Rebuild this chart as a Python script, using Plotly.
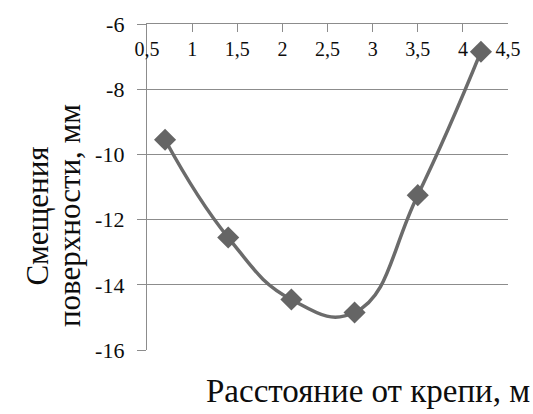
import plotly.graph_objects as go

x_vals = [0.7, 1.4, 2.1, 2.8, 3.5, 4.2]
y_vals = [-9.55, -12.55, -14.45, -14.85, -11.25, -6.85]
x_ticks = [0.5, 1, 1.5, 2, 2.5, 3, 3.5, 4, 4.5]
x_tick_labels = ["0,5", "1", "1,5", "2", "2,5", "3", "3,5", "4", "4,5"]
y_ticks = [-16, -14, -12, -10, -8, -6]
y_tick_labels = ["-16", "-14", "-12", "-10", "-8", "-6"]
y_title_lines = ["Смещения", "поверхности, мм"]
x_title = "Расстояние от крепи, м"

FONT = "Liberation Serif"
GRID = "#8c8c8c"
TXT = "#0d0d0d"

W, H = 533, 414
ML, MR, MT, MB = 147, 18, 18, 64
plot_w = W - ML - MR
plot_h = H - MT - MB


def px_x(p):
    return (p - ML) / plot_w


def px_y(p):
    return (H - MB - p) / plot_h


fig = go.Figure()
fig.add_trace(go.Scatter(
    x=x_vals, y=y_vals, mode="lines+markers",
    line=dict(shape="spline", smoothing=1.3, color="#6b6b6b", width=3.5),
    marker=dict(symbol="diamond", size=17, color="#656565"),
    showlegend=False, cliponaxis=False, hoverinfo="skip",
))

fig.update_layout(
    width=W, height=H,
    margin=dict(l=ML, r=MR, t=MT, b=MB),
    paper_bgcolor="white", plot_bgcolor="white",
    font=dict(family=FONT, color=TXT, size=20),
    xaxis=dict(
        range=[0.5, 4.5], side="top", tickvals=x_ticks, ticktext=x_tick_labels,
        ticks="inside", ticklen=8, tickcolor=GRID, tickwidth=1.3,
        ticklabelposition="outside", ticklabelstandoff=-41,
        showgrid=False, zeroline=False,
        showline=True, linecolor=GRID, linewidth=1.3,
        tickfont=dict(family=FONT, size=20, color=TXT),
    ),
    yaxis=dict(
        range=[-16, -6], tickvals=y_ticks, ticktext=y_tick_labels,
        ticks="outside", ticklen=9, tickcolor=GRID, tickwidth=1.3,
        ticklabelstandoff=8,
        showgrid=True, gridcolor=GRID, gridwidth=1.3, zeroline=False,
        showline=True, linecolor=GRID, linewidth=1.3,
        tickfont=dict(family=FONT, size=22, color=TXT),
    ),
    annotations=[
        dict(text=y_title_lines[0], x=px_x(35), y=px_y(214),
             xref="paper", yref="paper", showarrow=False, textangle=-90,
             font=dict(family=FONT, size=31, color=TXT),
             xanchor="center", yanchor="middle"),
        dict(text=y_title_lines[1], x=px_x(68), y=px_y(213),
             xref="paper", yref="paper", showarrow=False, textangle=-90,
             font=dict(family=FONT, size=31, color=TXT),
             xanchor="center", yanchor="middle"),
        dict(text=x_title, xref="paper", yref="paper",
             x=px_x(531), y=px_y(392), showarrow=False, xshift=8,
             font=dict(family=FONT, size=33, color=TXT),
             xanchor="right", yanchor="middle"),
    ],
)

fig.write_html("out.html", config={"displayModeBar": False},
               post_script="document.body.style.margin='0';")
